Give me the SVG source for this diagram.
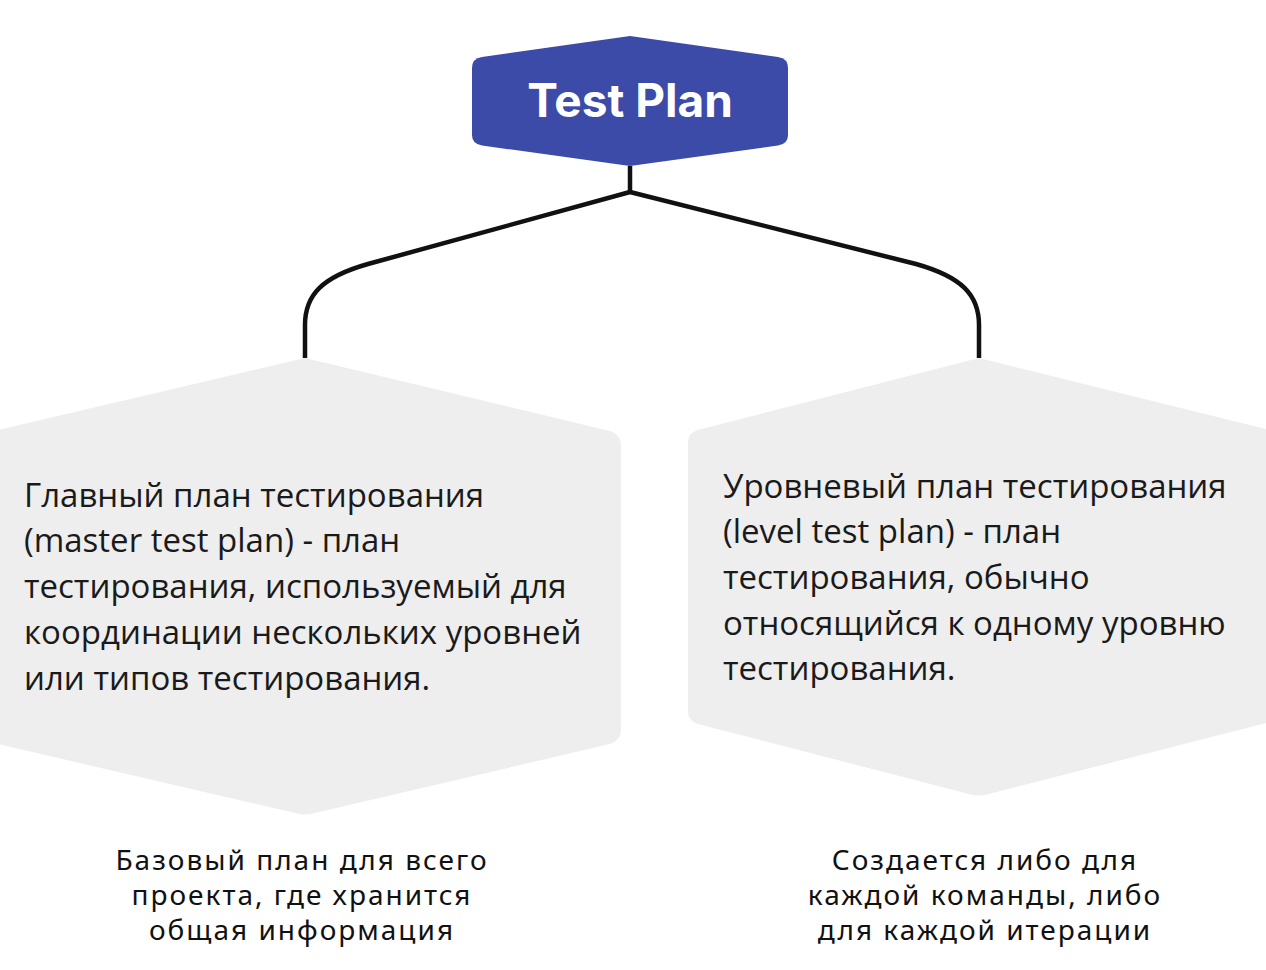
<svg xmlns="http://www.w3.org/2000/svg" width="1266" height="970" viewBox="0 0 1266 970">
<style>
.conn{fill:none;stroke:#111;stroke-width:4.5;stroke-linejoin:round}
.hex{fill:#EEEEEE}
.body{font-family:"Open Sans","Noto Sans",sans-serif;font-size:33px;fill:#1a1a1a}
.note{font-family:"Noto Sans","Open Sans",sans-serif;font-size:28px;fill:#111;text-anchor:middle;letter-spacing:2px}
.title{font-family:"Inter","Noto Sans",sans-serif;font-weight:700;font-size:46px;fill:#fff;text-anchor:middle}
</style>
<rect width="1266" height="970" fill="#fff"/>
<g id="connectors">
<path class="conn" d="M630,166 L630,192"/>
<path class="conn" d="M630,192 L368,264 C322,277 305,295 305,325 L305,358"/>
<path class="conn" d="M630,192 L916,264 C962,277 979,295 979,325 L979,358"/>
</g>
<g id="node-testplan">
<path d="M630,36 L778,57 Q788,58.5 788,68 L788,135 Q788,144 778,145.5 L630,166 L482,145.5 Q472,144 472,135 L472,68 Q472,58.5 482,57 Z" fill="#3C4AA8"/>
<text class="title" x="630" y="117">Test Plan</text>
</g>
<g id="node-master">
<path class="hex" d="M305,358 L610,431 Q621,434 621,446 L621,730 Q621,740 610,744 L315,813 Q305,816 295,813 L-11,742 L-11,432 Z"/>
<text class="body" x="24" y="507">Главный план тестирования</text>
<text class="body" x="24" y="552">(master test plan) - план</text>
<text class="body" x="24" y="598">тестирования, используемый для</text>
<text class="body" x="24" y="644">координации нескольких уровней</text>
<text class="body" x="24" y="690">или типов тестирования.</text>
</g>
<g id="node-level">
<path class="hex" d="M979,358 L1270,430 L1270,722 L989,794 Q979,797 969,794 L698,724 Q688,721 688,711 L688,442 Q688,433 698,430 Z"/>
<text class="body" x="723" y="498">Уровневый план тестирования</text>
<text class="body" x="723" y="543">(level test plan) - план</text>
<text class="body" x="723" y="589">тестирования, обычно</text>
<text class="body" x="723" y="635">относящийся к одному уровню</text>
<text class="body" x="723" y="680">тестирования.</text>
</g>
<g id="note-master">
<text class="note" x="302" y="870">Базовый план для всего</text>
<text class="note" x="302" y="905">проекта, где хранится</text>
<text class="note" x="302" y="940">общая информация</text>
</g>
<g id="note-level">
<text class="note" x="985" y="870">Создается либо для</text>
<text class="note" x="985" y="905">каждой команды, либо</text>
<text class="note" x="985" y="940">для каждой итерации</text>
</g>
</svg>
